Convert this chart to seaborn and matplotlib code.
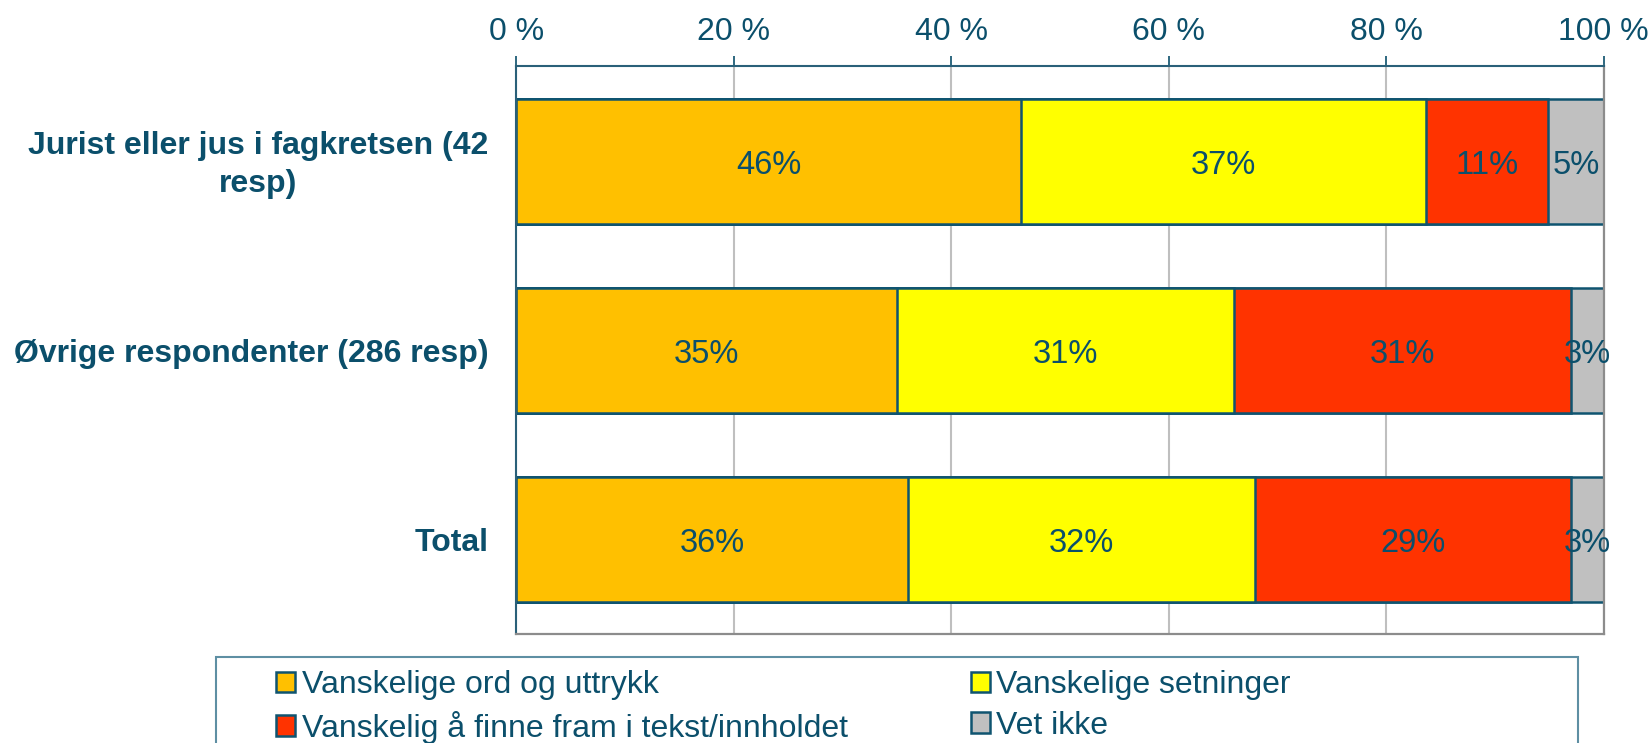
import numpy as np
import pandas as pd
import matplotlib
matplotlib.use('Agg')
import matplotlib.pyplot as plt
from matplotlib.patches import Patch, Rectangle
from matplotlib.transforms import ScaledTranslation
import seaborn as sns

groups = ['Jurist eller jus i fagkretsen (42\nresp)',
          'Øvrige respondenter (286 resp)',
          'Total']
series = ['Vanskelige ord og uttrykk',
          'Vanskelige setninger',
          'Vanskelig å finne fram i tekst/innholdet',
          'Vet ikke']
ord_uttrykk = [46.4, 35.0, 36.0]
setninger = [37.3, 31.0, 31.9]
finne_fram = [11.2, 31.0, 29.1]
vet_ikke = [5.1, 3.0, 3.0]
colors = ['#FFC000', '#FFFF00', '#FF3300', '#C0C0C0']
xticks = [0, 20, 40, 60, 80, 100]

teal = '#0B4F6B'
edge = '#0F5470'

sns.set_style('white')
plt.rcParams['font.family'] = ['Liberation Sans', 'DejaVu Sans']

df = pd.DataFrame({'group': groups,
                   series[0]: ord_uttrykk,
                   series[1]: setninger,
                   series[2]: finne_fram,
                   series[3]: vet_ikke})
cum = df[series].cumsum(axis=1)

fig = plt.figure(figsize=(16.52, 7.43), dpi=100)
ax = fig.add_axes([0.3125, 0.1467, 0.6582, 0.7638])

# stacked bars: draw cumulative totals from the back to the front
for i in reversed(range(len(series))):
    sns.barplot(x=cum[series[i]], y=df['group'], orient='h', color=colors[i],
                saturation=1, width=0.66, edgecolor=edge, linewidth=1.8, ax=ax)

for i in range(len(series)):
    mids = cum[series[i]] - df[series[i]] / 2
    for j, (m, v) in enumerate(zip(mids, df[series[i]])):
        ax.annotate(f'{round(v):.0f}%', (m, j), xytext=(0, -3),
                    textcoords='offset points', ha='center', va='center',
                    fontsize=23.5, color=teal)

ax.set_xlim(0, 100)
ax.set_ylim(len(groups) - 0.5, -0.5)
ax.xaxis.tick_top()
ax.set_xticks(xticks)
ax.set_xticklabels([f'{t} %' for t in xticks])
ax.tick_params(axis='x', length=7, width=1.2, color=teal, labelcolor=teal,
               labelsize=23, pad=7)
ax.tick_params(axis='y', which='major', length=0, pad=20, labelcolor=teal,
               labelsize=23)
ax.set_yticks(np.arange(-0.5, len(groups)), minor=True)
ax.tick_params(axis='y', which='minor', length=7, width=1.2, color=teal)
for t in ax.get_yticklabels():
    t.set_fontweight('bold')
    t.set_multialignment('center')
    t.set_linespacing(1.35)
    if '\n' in t.get_text():
        t.set_transform(t.get_transform()
                        + ScaledTranslation(0, 4 / 100, fig.dpi_scale_trans))
ax.set_xlabel('')
ax.set_ylabel('')

ax.grid(axis='x', color='#BFBFBF', linewidth=1.5)
ax.set_axisbelow(True)
for s in ['top', 'left']:
    ax.spines[s].set_color('#2A6079')
    ax.spines[s].set_linewidth(1.5)
for s in ['bottom', 'right']:
    ax.spines[s].set_color('#8C8C8C')
    ax.spines[s].set_linewidth(1.6)

# legend
order = [0, 2, 1, 3]
handles = [Patch(facecolor=colors[k], edgecolor=edge, linewidth=1.8) for k in order]
labels = [series[k] for k in order]
fig.legend(handles, labels, ncol=2, loc='upper left',
           bbox_to_anchor=(276 / 1652, 1 - 670 / 743), frameon=False,
           fontsize=23, labelcolor=teal, handlelength=0.6, handleheight=0.6,
           handletextpad=0.2, columnspacing=3.85, labelspacing=0.34,
           borderpad=0, borderaxespad=0)
fig.patches.append(Rectangle((216 / 1652, -0.2), (1578 - 216) / 1652,
                             0.2 + (743 - 657) / 743, transform=fig.transFigure,
                             fill=False, edgecolor='#5E8FA3', linewidth=1.5))

fig.savefig('out.png', dpi=100)
